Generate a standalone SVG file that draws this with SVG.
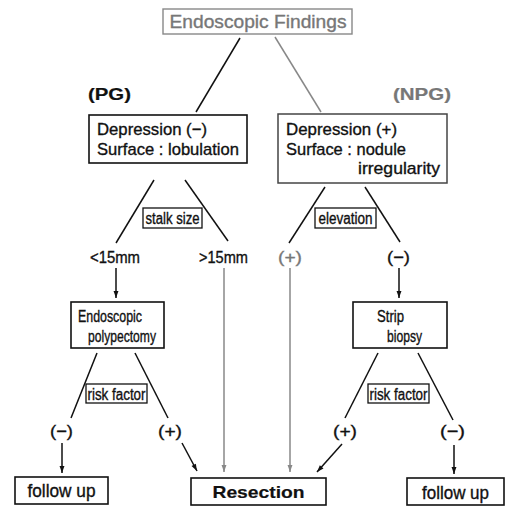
<svg xmlns="http://www.w3.org/2000/svg" width="506" height="508" viewBox="0 0 506 508">
<defs>
<style>
text{font-family:"Liberation Sans",Arial,sans-serif;fill:#111;stroke:#111;stroke-width:0.35}
.b{fill:none;stroke:#111;stroke-width:1.6}
.g{fill:none;stroke:#888;stroke-width:1.4}
.l{stroke:#111;stroke-width:1.5;fill:none}
.lg{stroke:#888;stroke-width:1.5;fill:none}
.t16{font-size:16px}
.t17{font-size:17px}
.sm{font-size:16px}
.gt{fill:#777;stroke:#777}
</style>
<marker id="ab" viewBox="0 0 10 10" refX="10" refY="5" markerWidth="10" markerHeight="7" markerUnits="userSpaceOnUse" orient="auto"><path d="M0,1.5 L10,5 L0,8.5 z" fill="#111"/></marker>
<marker id="ag" viewBox="0 0 10 10" refX="10" refY="5" markerWidth="10" markerHeight="7" markerUnits="userSpaceOnUse" orient="auto"><path d="M0,1.5 L10,5 L0,8.5 z" fill="#888"/></marker>
</defs>
<g id="connectors">
<line class="l" x1="240" y1="38" x2="196" y2="112"/>
<line class="lg" x1="275" y1="37" x2="321" y2="112"/>
<line class="l" x1="154" y1="180" x2="116" y2="243"/>
<line class="l" x1="185" y1="180" x2="228" y2="241"/>
<line class="l" x1="325" y1="187" x2="289" y2="243"/>
<line class="l" x1="365" y1="187" x2="400" y2="242"/>
<line class="l" x1="116" y1="268" x2="116" y2="298" marker-end="url(#ab)"/>
<line class="l" x1="399" y1="268" x2="399" y2="298" marker-end="url(#ab)"/>
<line class="lg" x1="224" y1="268" x2="224" y2="472" marker-end="url(#ag)"/>
<line class="lg" x1="290" y1="268" x2="290" y2="472" marker-end="url(#ag)"/>
<line class="l" x1="97" y1="353" x2="71" y2="418"/>
<line class="l" x1="135" y1="353" x2="168" y2="418"/>
<line class="l" x1="378" y1="353" x2="345" y2="418"/>
<line class="l" x1="418" y1="353" x2="453" y2="420"/>
<line class="l" x1="62" y1="443" x2="62" y2="473" marker-end="url(#ab)"/>
<line class="l" x1="182" y1="443" x2="197" y2="471" marker-end="url(#ab)"/>
<line class="l" x1="342" y1="444" x2="317" y2="472" marker-end="url(#ab)"/>
<line class="l" x1="454" y1="445" x2="454" y2="474" marker-end="url(#ab)"/>
</g>
<g id="endoscopic-findings">
<rect class="g" x="163" y="9" width="189" height="25"/>
<text x="258" y="28" text-anchor="middle" class="gt" style="font-size:18px" textLength="177" lengthAdjust="spacingAndGlyphs">Endoscopic Findings</text>
</g>
<g id="pg-label"><text x="88" y="100" style="font-size:16px;font-weight:bold;stroke-width:0.2" textLength="43" lengthAdjust="spacingAndGlyphs">(PG)</text></g>
<g id="npg-label"><text x="393" y="100" class="gt" style="font-size:16px;font-weight:bold;stroke-width:0.2" textLength="58" lengthAdjust="spacingAndGlyphs">(NPG)</text></g>
<g id="pg-box">
<rect class="b" x="89" y="115" width="158" height="48"/>
<text x="97" y="135" class="t17" textLength="110" lengthAdjust="spacingAndGlyphs">Depression (−)</text>
<text x="97" y="155" class="t17" textLength="142" lengthAdjust="spacingAndGlyphs">Surface : lobulation</text>
</g>
<g id="npg-box">
<rect x="278" y="114" width="169" height="69" style="fill:none;stroke:#444;stroke-width:1.5"/>
<text x="286" y="135" class="t17" textLength="111" lengthAdjust="spacingAndGlyphs">Depression (+)</text>
<text x="286" y="155" class="t17" textLength="120" lengthAdjust="spacingAndGlyphs">Surface : nodule</text>
<text x="358" y="174" class="t17" textLength="82" lengthAdjust="spacingAndGlyphs">irregularity</text>
</g>
<g id="stalk-size">
<rect class="b" x="143" y="208" width="59" height="20" style="stroke-width:1.3"/>
<text x="172.5" y="224" text-anchor="middle" class="sm" textLength="54" lengthAdjust="spacingAndGlyphs">stalk size</text>
</g>
<g id="elevation">
<rect class="b" x="315" y="208" width="61" height="20" style="stroke-width:1.3"/>
<text x="345.5" y="224" text-anchor="middle" class="sm" textLength="54" lengthAdjust="spacingAndGlyphs">elevation</text>
</g>
<g id="lt15"><text x="90" y="263" class="t17" textLength="50" lengthAdjust="spacingAndGlyphs">&lt;15mm</text></g>
<g id="gt15"><text x="199" y="263" class="t17" textLength="49" lengthAdjust="spacingAndGlyphs">&gt;15mm</text></g>
<g id="elev-plus"><text x="278" y="263" class="t17 gt" textLength="24" lengthAdjust="spacingAndGlyphs">(+)</text></g>
<g id="elev-minus"><text x="387" y="263" class="t17" textLength="23" lengthAdjust="spacingAndGlyphs">(−)</text></g>
<g id="polypectomy">
<rect class="b" x="71" y="302" width="93" height="46"/>
<text x="78" y="322" class="sm" textLength="64" lengthAdjust="spacingAndGlyphs">Endoscopic</text>
<text x="88" y="342" class="sm" textLength="68" lengthAdjust="spacingAndGlyphs">polypectomy</text>
</g>
<g id="strip-biopsy">
<rect class="b" x="353" y="302" width="94" height="46"/>
<text x="377" y="322" class="sm" textLength="27" lengthAdjust="spacingAndGlyphs">Strip</text>
<text x="387" y="342" class="sm" textLength="35" lengthAdjust="spacingAndGlyphs">biopsy</text>
</g>
<g id="risk-left">
<rect class="b" x="86" y="384" width="61" height="19" style="stroke-width:1.3"/>
<text x="116.5" y="400" text-anchor="middle" class="sm" textLength="58" lengthAdjust="spacingAndGlyphs">risk factor</text>
</g>
<g id="risk-right">
<rect class="b" x="368" y="384" width="61" height="19" style="stroke-width:1.3"/>
<text x="398.5" y="400" text-anchor="middle" class="sm" textLength="58" lengthAdjust="spacingAndGlyphs">risk factor</text>
</g>
<g id="rl-minus"><text x="50" y="437" class="t17" textLength="23" lengthAdjust="spacingAndGlyphs">(−)</text></g>
<g id="rl-plus"><text x="158" y="437" class="t17" textLength="24" lengthAdjust="spacingAndGlyphs">(+)</text></g>
<g id="rr-plus"><text x="333" y="437" class="t17" textLength="24" lengthAdjust="spacingAndGlyphs">(+)</text></g>
<g id="rr-minus"><text x="440" y="437" class="t17" textLength="25" lengthAdjust="spacingAndGlyphs">(−)</text></g>
<g id="follow-up-left">
<rect class="b" x="15" y="477" width="93" height="27"/>
<text x="61.5" y="497" text-anchor="middle" style="font-size:18px" textLength="68" lengthAdjust="spacingAndGlyphs">follow up</text>
</g>
<g id="resection">
<rect class="b" x="191" y="478" width="135" height="27"/>
<text x="258.5" y="498" text-anchor="middle" style="font-size:17px;font-weight:bold;stroke-width:0.2" textLength="92" lengthAdjust="spacingAndGlyphs">Resection</text>
</g>
<g id="follow-up-right">
<rect class="b" x="407" y="478" width="97" height="27"/>
<text x="455.5" y="499" text-anchor="middle" style="font-size:18px" textLength="67" lengthAdjust="spacingAndGlyphs">follow up</text>
</g>
</svg>
